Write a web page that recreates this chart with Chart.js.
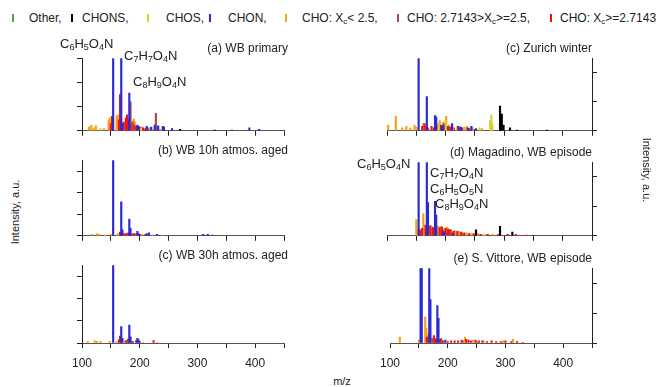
<!DOCTYPE html>
<html>
<head>
<meta charset="utf-8">
<script src="https://cdn.jsdelivr.net/npm/chart.js@4.4.1/dist/chart.umd.min.js"></script>
<style>
  body { margin: 0; background: #fff; font-family: 'Liberation Sans', Arial, sans-serif; color: #222; }
  #wrap { position: relative; width: 656px; height: 387px; overflow: hidden; }
  canvas { position: absolute; }
  .t { position: absolute; white-space: nowrap; line-height: 14px; }
  .leg { font-size: 12px; top: 11px; }
  .mark { position: absolute; top: 14px; width: 2px; height: 8px; }
  .title { font-size: 12px; text-align: right; }
  .f { font-size: 13px; }
  .f sub { font-size: 9px; vertical-align: -2px; line-height: 0; }
  .leg sub { font-size: 8px; vertical-align: -2px; line-height: 0; }
  .ylab { font-size: 11px; }
</style>
</head>
<body>
<div id="wrap"></div>
<script>
// m/z axis
const mzTicks = [100, 150, 200, 250, 300, 350, 400, 450];
const mzLabels = [100, 200, 300, 400];

// compound classes (legend order)
const classNames = ['Other', 'CHONS', 'CHOS', 'CHON', 'CHO: X<sub>c</sub>< 2.5', 'CHO: 2.7143>X<sub>c</sub>>=2.5', 'CHO: X<sub>c</sub>>=2.7143'];
const classKeys = ['other', 'chons', 'chos', 'chon', 'choLow', 'choMid', 'choHigh'];

// peaks: [m/z, intensity in % of panel full scale]
// (a) WB primary
const aChon = [[154, 100], [168, 100], [182, 52], [170, 10], [196, 8], [198, 6], [212, 6], [220, 5], [226, 8], [232, 7], [240, 6], [242, 5], [256, 3], [360, 1], [390, 4], [407, 2]];
const aChoHigh = [[150, 10], [152, 20], [164, 15], [166, 50], [172, 12], [176, 18], [178, 22], [180, 15], [186, 10], [190, 8], [194, 6], [200, 5], [206, 4], [210, 3]];
const aChoMid = [[170, 10], [184, 40], [188, 12], [214, 4], [228, 24], [230, 6]];
const aChoLow = [[112, 5], [116, 8], [120, 4], [124, 7], [138, 3], [146, 14], [148, 18], [160, 20], [162, 22], [174, 10], [188, 14], [190, 16], [192, 12], [198, 6], [204, 5], [218, 4], [226, 3], [236, 2]];
const aChons = [[270, 2], [330, 1]];
const aChos = [[132, 3], [202, 3]];
const aOther = [];

// (b) WB 10h atmos. aged
const bChon = [[154, 100], [168, 45], [170, 8], [182, 22], [184, 10], [196, 6], [198, 3], [212, 3], [216, 4], [230, 2], [310, 2], [318, 2], [326, 1]];
const bChoHigh = [[166, 5], [172, 3], [176, 3], [180, 4], [186, 3], [190, 3], [200, 2], [210, 2]];
const bChoMid = [[178, 3], [194, 3]];
const bChoLow = [[118, 2], [126, 3], [130, 2], [150, 2], [162, 3], [174, 2], [188, 2], [204, 2], [222, 1]];
const bChons = [];
const bChos = [[140, 1], [240, 1]];
const bOther = [];

// (c) WB 30h atmos. aged
const cChon = [[154, 100], [168, 21], [170, 6], [182, 23], [184, 8], [194, 3], [196, 6], [198, 4]];
const cChoHigh = [[164, 4], [166, 9], [176, 3], [180, 5], [188, 2], [200, 2], [224, 3]];
const cChoMid = [[178, 3], [186, 2]];
const cChoLow = [[110, 2], [122, 3], [126, 2], [132, 2], [148, 2], [160, 2], [174, 2], [206, 1], [230, 1]];
const cChons = [];
const cChos = [];
const cOther = [];

// (c) Zurich winter
const zChon = [[154, 100], [168, 47], [182, 21], [184, 19], [194, 6], [196, 8], [211, 10], [222, 6], [226, 5], [238, 4], [244, 6], [252, 3]];
const zChoHigh = [[160, 6], [164, 10], [168, 5], [176, 6], [180, 4], [192, 8], [198, 10], [204, 6], [208, 5], [214, 4], [224, 3], [228, 4], [240, 3], [250, 2]];
const zChoMid = [[170, 4], [184, 5], [194, 6], [210, 4], [226, 4], [238, 3]];
const zChoLow = [[102, 8], [115, 20], [126, 4], [133, 6], [140, 4], [147, 8], [150, 5], [162, 10], [166, 8], [186, 10], [190, 14], [196, 12], [201, 20], [206, 8], [220, 6], [232, 5], [236, 6], [246, 4], [262, 3]];
const zChons = [[293, 34], [296, 23], [299, 8], [310, 4], [322, 1], [373, 1]];
const zChos = [[188, 10], [200, 14], [212, 8], [258, 4], [276, 14], [278, 22], [280, 10]];
const zOther = [];

// (d) Magadino, WB episode
const dChon = [[154, 100], [168, 100], [170, 45], [182, 47], [184, 28], [196, 6], [198, 4], [212, 3]];
const dChoHigh = [[156, 8], [160, 10], [166, 14], [174, 14], [178, 12], [180, 10], [190, 11], [194, 12], [200, 10], [204, 9], [208, 8], [214, 6], [220, 6], [226, 5], [232, 4], [240, 3], [248, 3], [260, 2], [272, 2], [290, 2], [306, 2], [320, 2], [338, 1], [350, 1]];
const dChoMid = [[184, 6], [196, 7], [212, 5], [230, 3]];
const dChoLow = [[150, 22], [152, 8], [162, 30], [164, 15], [172, 12], [176, 10], [186, 14], [188, 12], [192, 13], [198, 10], [202, 12], [206, 9], [210, 8], [216, 7], [222, 6], [228, 5], [236, 4], [244, 3], [256, 3], [268, 2], [280, 2]];
const dChons = [[252, 8], [293, 13], [314, 5]];
const dChos = [[266, 2]];
const dOther = [];

// (e) S. Vittore, WB episode
const eChon = [[153, 100], [155, 100], [168, 100], [170, 58], [182, 50], [184, 33], [196, 4]];
const eChoHigh = [[164, 8], [176, 10], [178, 6], [180, 5], [186, 4], [188, 6], [192, 3], [200, 2], [206, 3], [212, 3], [218, 3], [224, 4], [232, 5], [236, 4], [240, 3], [248, 4], [254, 3], [260, 3], [268, 2], [276, 3], [284, 2], [292, 2], [300, 3], [310, 2], [320, 2], [330, 1]];
const eChoMid = [[174, 6], [190, 4], [226, 3], [250, 2]];
const eChoLow = [[117, 8], [150, 4], [161, 35], [163, 20], [166, 12], [172, 6], [188, 5], [230, 8], [244, 4], [262, 3], [296, 3], [313, 5]];
const eChons = [];
const eChos = [];
const eOther = [];

const colors = {
  other: '#3cb043', chons: '#000000', chos: '#d6d23a', chon: '#2a2ad6',
  choLow: '#f5a21a', choMid: '#b0464c', choHigh: '#e8141c',
};
const drawOrder = { chon: 0, chons: 1, chos: 2, choMid: 3, choHigh: 4, choLow: 5, other: 6 };

const panels = [
  { title: '(a) WB primary', side: 'left', top: 53, h: 80, yTicks: 6, bottom: false,
    sets: { other: aOther, chons: aChons, chos: aChos, chon: aChon, choLow: aChoLow, choMid: aChoMid, choHigh: aChoHigh } },
  { title: '(b) WB 10h atmos. aged', side: 'left', top: 155, h: 83, yTicks: 7, bottom: false,
    sets: { other: bOther, chons: bChons, chos: bChos, chon: bChon, choLow: bChoLow, choMid: bChoMid, choHigh: bChoHigh } },
  { title: '(c) WB 30h atmos. aged', side: 'left', top: 260, h: 83, yTicks: 7, bottom: true,
    sets: { other: cOther, chons: cChons, chos: cChos, chon: cChon, choLow: cChoLow, choMid: cChoMid, choHigh: cChoHigh } },
  { title: '(c) Zurich winter', side: 'right', top: 53, h: 80, yTicks: 5, bottom: false,
    sets: { other: zOther, chons: zChons, chos: zChos, chon: zChon, choLow: zChoLow, choMid: zChoMid, choHigh: zChoHigh } },
  { title: '(d) Magadino, WB episode', side: 'right', top: 157, h: 81, yTicks: 5, bottom: false,
    sets: { other: dOther, chons: dChons, chos: dChos, chon: dChon, choLow: dChoLow, choMid: dChoMid, choHigh: dChoHigh } },
  { title: '(e) S. Vittore, WB episode', side: 'right', top: 263, h: 80, yTicks: 5, bottom: true,
    sets: { other: eOther, chons: eChons, chos: eChos, chon: eChon, choLow: eChoLow, choMid: eChoMid, choHigh: eChoHigh } },
];

const wrap = document.getElementById('wrap');

function addText(cls, html, style) {
  const el = document.createElement('div');
  el.className = 't ' + cls;
  el.innerHTML = html;
  Object.assign(el.style, style);
  wrap.appendChild(el);
  return el;
}

function makePanel(p) {
  const plotW = 205, axisW = 20, padTop = 5;
  const xH = p.bottom ? 30 : 8;
  const padLeft = p.side === 'left' ? 0 : 15;
  const plotLeft = p.side === 'left' ? 82 : 387;
  const cv = document.createElement('canvas');
  cv.width = padLeft + plotW + axisW + (p.side === 'left' ? 5 : 0);
  cv.height = padTop + p.h + xH;
  cv.style.left = (p.side === 'left' ? plotLeft - axisW : plotLeft - padLeft) + 'px';
  cv.style.top = (p.top - padTop) + 'px';
  wrap.appendChild(cv);

  new Chart(cv, {
    type: 'bar',
    data: {
      datasets: classKeys.map(k => ({
        label: k,
        data: p.sets[k].map(([x, y]) => ({ x, y })),
        backgroundColor: colors[k],
        borderWidth: 0,
        barThickness: 1.5,
        grouped: false,
        order: drawOrder[k],
      })),
    },
    options: {
      responsive: false, animation: false, devicePixelRatio: 1,
      layout: { padding: { top: padTop, left: padLeft, right: p.side === 'left' ? 5 : 0, bottom: 0 } },
      plugins: { legend: { display: false }, tooltip: { enabled: false } },
      scales: {
        x: {
          type: 'linear', min: 100, max: 450, offset: false,
          afterBuildTicks: s => { s.ticks = mzTicks.map(v => ({ value: v })); },
          ticks: {
            autoSkip: false, maxRotation: 0, padding: 8, color: '#222',
            font: { family: "'Liberation Sans', Arial, sans-serif", size: 12 },
            callback: v => (p.bottom && mzLabels.includes(v) ? String(v) : ''),
          },
          grid: { display: true, offset: false, drawOnChartArea: false, tickLength: 5, color: '#222' },
          border: { color: '#555', width: 1 },
          afterFit: s => { s.height = xH; },
        },
        y: {
          position: p.side, min: 0, max: 100,
          afterBuildTicks: s => { s.ticks = Array.from({ length: p.yTicks + 1 }, (_, i) => ({ value: i * 100 / p.yTicks })); },
          ticks: { callback: () => '' },
          grid: { display: true, drawOnChartArea: false, tickLength: 5, color: '#222' },
          border: { color: '#222', width: 1 },
          afterFit: s => { s.width = axisW; },
        },
      },
    },
  });

  const right = p.side === 'left' ? 656 - 288 : 656 - 592;
  addText('title', p.title, { right: right + 'px', top: (p.top - 12) + 'px' });
}

panels.forEach(makePanel);

// legend
const legLeft = [12, 71, 147, 209, 285, 397, 550];
const legText = [29, 82, 166, 228, 302, 407, 560];
classKeys.forEach((k, i) => {
  const m = document.createElement('div');
  m.className = 'mark';
  m.style.left = legLeft[i] + 'px';
  m.style.background = colors[k];
  wrap.appendChild(m);
  addText('leg', classNames[i] + (i < classKeys.length - 1 ? ',' : ''), { left: legText[i] + 'px' });
});

// peak labels
const f = s => s.replace(/(\d)/g, '<sub>$1</sub>');
addText('f', f('C6H5O4N'), { left: '60px', top: '37px' });
addText('f', f('C7H7O4N'), { left: '124px', top: '49px' });
addText('f', f('C8H9O4N'), { left: '133px', top: '75px' });
addText('f', f('C6H5O4N'), { left: '357px', top: '157px' });
addText('f', f('C7H7O4N'), { left: '430px', top: '166px' });
addText('f', f('C6H5O5N'), { left: '430px', top: '182px' });
addText('f', f('C8H9O4N'), { left: '435px', top: '197px' });

// axis titles
addText('ylab', 'Intensity, a.u.', { left: '15px', top: '212px', transform: 'translate(-50%,-50%) rotate(-90deg)' });
addText('ylab', 'Intensity, a.u.', { left: '647px', top: '170px', transform: 'translate(-50%,-50%) rotate(90deg)' });
addText('ylab', 'm/z', { left: '342px', top: '381px', transform: 'translate(-50%,-50%)' });
</script>
</body>
</html>
